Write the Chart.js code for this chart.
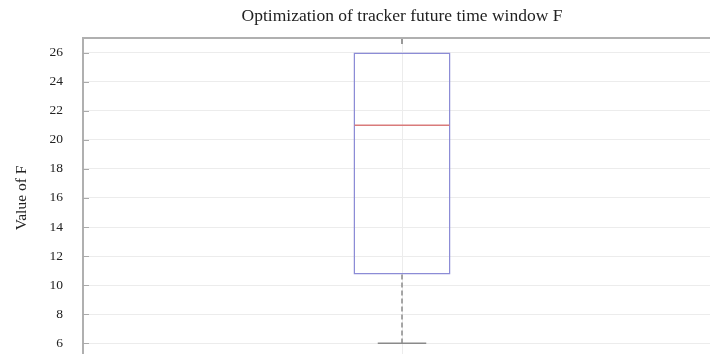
<!DOCTYPE html>
<html>
<head>
<meta charset="utf-8">
<script src="https://cdn.jsdelivr.net/npm/chart.js@4.4.1/dist/chart.umd.min.js"></script>
<style>
  html, body { margin: 0; padding: 0; background: #fff; overflow: hidden; }
  #myChart { display: block; }
</style>
</head>
<body>
<canvas id="myChart" width="804" height="369"></canvas>
<script>
// box plot values
var categories = [''];
var q1 = [10.74];
var q3 = [26];
var medians = [21];
var whiskerLow = [6];
var whiskerHigh = [26];
var yTicks = [6, 8, 10, 12, 14, 16, 18, 20, 22, 24, 26];

var serif = "'Liberation Serif', 'DejaVu Serif', serif";

// median, whiskers, frame and inward ticks
var boxExtras = {
  id: 'boxExtras',
  afterDatasetsDraw: function(chart){
    var ctx = chart.ctx;
    var x = chart.scales.x, y = chart.scales.y;
    var area = chart.chartArea;
    var meta = chart.getDatasetMeta(0);
    ctx.save();
    for (var i = 0; i < categories.length; i++) {
      var bar = meta.data[i];
      var cx = x.getPixelForValue(i);
      var half = bar.width / 2;
      // median
      ctx.strokeStyle = '#d97b7b';
      ctx.lineWidth = 1.5;
      ctx.beginPath();
      ctx.moveTo(cx - half + 1, y.getPixelForValue(medians[i]));
      ctx.lineTo(cx + half - 1, y.getPixelForValue(medians[i]));
      ctx.stroke();
      // whiskers
      ctx.strokeStyle = '#8a8a8a';
      ctx.setLineDash([5, 3]);
      ctx.beginPath();
      ctx.moveTo(cx, y.getPixelForValue(q1[i]));
      ctx.lineTo(cx, y.getPixelForValue(whiskerLow[i]));
      if (whiskerHigh[i] > q3[i]) {
        ctx.moveTo(cx, y.getPixelForValue(q3[i]));
        ctx.lineTo(cx, y.getPixelForValue(whiskerHigh[i]));
      }
      ctx.stroke();
      ctx.setLineDash([]);
      ctx.beginPath();
      ctx.moveTo(cx - half / 2, y.getPixelForValue(whiskerLow[i]));
      ctx.lineTo(cx + half / 2, y.getPixelForValue(whiskerLow[i]));
      if (whiskerHigh[i] > q3[i]) {
        ctx.moveTo(cx - half / 2, y.getPixelForValue(whiskerHigh[i]));
        ctx.lineTo(cx + half / 2, y.getPixelForValue(whiskerHigh[i]));
      }
      ctx.stroke();
      // top tick
      ctx.strokeStyle = '#999';
      ctx.lineWidth = 2;
      ctx.beginPath();
      ctx.moveTo(cx, area.top);
      ctx.lineTo(cx, area.top + 6);
      ctx.stroke();
    }
    // inward y ticks
    ctx.strokeStyle = '#aaa';
    ctx.lineWidth = 1;
    yTicks.forEach(function(t){
      var py = Math.round(y.getPixelForValue(t)) + 0.5;
      ctx.beginPath();
      ctx.moveTo(area.left, py);
      ctx.lineTo(area.left + 6, py);
      ctx.stroke();
    });
    // top frame
    ctx.strokeStyle = '#b0b0b0';
    ctx.lineWidth = 2;
    ctx.beginPath();
    ctx.moveTo(area.left - 1, area.top);
    ctx.lineTo(area.right, area.top);
    ctx.stroke();
    ctx.restore();
  }
};

var ctx = document.getElementById('myChart');
var chart = new Chart(ctx, {
  type: 'bar',
  data: {
    labels: categories,
    datasets: [{
      label: 'F',
      data: q1.map(function(v, i){ return [v, q3[i]]; }),
      backgroundColor: 'rgba(0,0,0,0)',
      borderColor: '#8c8cd6',
      borderWidth: 1.5,
      borderSkipped: false,
      barPercentage: 0.152,
      categoryPercentage: 1
    }]
  },
  options: {
    responsive: false,
    maintainAspectRatio: false,
    animation: false,
    layout: { padding: { left: 0, right: 83, top: 0, bottom: 0 } },
    plugins: {
      legend: { display: false },
      tooltip: { enabled: false },
      title: {
        display: true,
        fullSize: false,
        text: 'Optimization of tracker future time window F',
        color: '#222',
        font: { family: serif, size: 17.5, weight: 'normal' },
        padding: { top: 6, bottom: 11 }
      }
    },
    scales: {
      x: {
        afterFit: function(scale){ scale.height = 0; },
        ticks: { display: false },
        grid: { offset: false, color: '#ececec', drawTicks: false },
        border: { display: false }
      },
      y: {
        min: 5,
        max: 27,
        afterBuildTicks: function(scale){
          scale.ticks = yTicks.map(function(v){ return { value: v }; });
        },
        afterFit: function(scale){ scale.width = 83; },
        ticks: {
          color: '#222',
          padding: 3,
          font: { family: serif, size: 13.5 }
        },
        grid: { color: '#ececec', drawTicks: true, tickLength: 17, tickColor: 'rgba(0,0,0,0)' },
        border: { display: true, color: '#b0b0b0', width: 2 },
        title: {
          display: true,
          text: 'Value of F',
          color: '#222',
          font: { family: serif, size: 15.5 },
          padding: { top: 13, bottom: 4 }
        }
      }
    }
  },
  plugins: [boxExtras]
});
</script>
</body>
</html>
